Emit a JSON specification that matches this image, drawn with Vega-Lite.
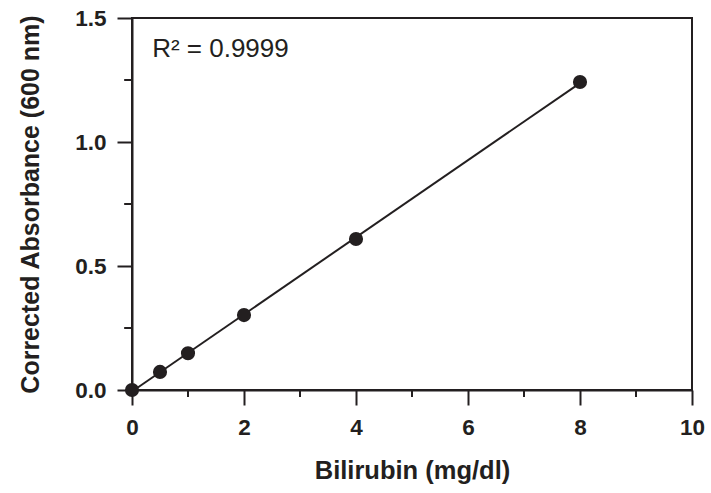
{
  "$schema": "https://vega.github.io/schema/vega-lite/v6.json",
  "autosize": "none",
  "padding": {"left": 132, "top": 18, "right": 19, "bottom": 103},
  "width": 560,
  "height": 372,
  "background": "white",
  "config": {
    "view": {"stroke": "#231f20", "strokeWidth": 2},
    "font": "Liberation Sans"
  },
  "datasets": {
    "pts": [
      {"bilirubin": 0, "absorbance": 0.0},
      {"bilirubin": 0.5, "absorbance": 0.073},
      {"bilirubin": 1, "absorbance": 0.148},
      {"bilirubin": 2, "absorbance": 0.302},
      {"bilirubin": 4, "absorbance": 0.609},
      {"bilirubin": 8, "absorbance": 1.242}
    ],
    "note": [
      {"bilirubin": 0.36, "absorbance": 1.343, "label": "R² = 0.9999"}
    ]
  },
  "layer": [
    {
      "data": {"name": "pts"},
      "transform": [{"regression": "absorbance", "on": "bilirubin", "extent": [0, 8]}],
      "mark": {"type": "line", "color": "#231f20", "strokeWidth": 2},
      "encoding": {
        "x": {
          "field": "bilirubin", "type": "quantitative",
          "scale": {"domain": [0, 10], "nice": false, "zero": false},
          "axis": {
            "title": "Bilirubin (mg/dl)",
            "values": [0, 2, 4, 6, 8, 10],
            "format": "d",
            "grid": false,
            "labelFlush": false,
            "domainColor": "#231f20", "domainWidth": 2,
            "tickColor": "#231f20", "tickWidth": 2, "tickSize": 15,
            "labelFont": "Liberation Sans", "labelFontSize": 22.5, "labelFontWeight": "bold", "labelColor": "#231f20",
            "labelPadding": 11,
            "titleFont": "Liberation Sans", "titleFontSize": 25.5, "titleFontWeight": "bold", "titleColor": "#231f20",
            "titlePadding": 20
          }
        },
        "y": {
          "field": "absorbance", "type": "quantitative",
          "scale": {"domain": [0, 1.5], "nice": false, "zero": false},
          "axis": {
            "title": "Corrected Absorbance (600 nm)",
            "values": [0, 0.5, 1.0, 1.5],
            "format": ".1f",
            "grid": false,
            "labelFlush": false,
            "domainColor": "#231f20", "domainWidth": 2,
            "tickColor": "#231f20", "tickWidth": 2, "tickSize": 15,
            "labelFont": "Liberation Sans", "labelFontSize": 22.5, "labelFontWeight": "bold", "labelColor": "#231f20",
            "labelPadding": 11,
            "titleFont": "Liberation Sans", "titleFontSize": 25, "titleFontWeight": "bold", "titleColor": "#231f20",
            "titlePadding": 31
          }
        }
      }
    },
    {
      "data": {"name": "pts"},
      "mark": {"type": "circle", "size": 200, "color": "#231f20", "opacity": 1},
      "encoding": {
        "x": {"field": "bilirubin", "type": "quantitative"},
        "y": {"field": "absorbance", "type": "quantitative"}
      }
    },
    {
      "data": {"values": [{"t": 1}, {"t": 3}, {"t": 5}, {"t": 7}, {"t": 9}]},
      "mark": {"type": "rule", "color": "#231f20", "strokeWidth": 2},
      "encoding": {
        "x": {"field": "t", "type": "quantitative"},
        "y": {"datum": 0},
        "y2": {"datum": -0.028}
      }
    },
    {
      "data": {"values": [{"t": 0.25}, {"t": 0.75}, {"t": 1.25}]},
      "mark": {"type": "rule", "color": "#231f20", "strokeWidth": 2},
      "encoding": {
        "y": {"field": "t", "type": "quantitative"},
        "x": {"datum": 0},
        "x2": {"datum": -0.14}
      }
    },
    {
      "data": {"name": "note"},
      "mark": {"type": "text", "align": "left", "baseline": "alphabetic", "font": "Liberation Sans", "fontSize": 26, "color": "#231f20"},
      "encoding": {
        "x": {"field": "bilirubin", "type": "quantitative"},
        "y": {"field": "absorbance", "type": "quantitative"},
        "text": {"field": "label"}
      }
    }
  ]
}
